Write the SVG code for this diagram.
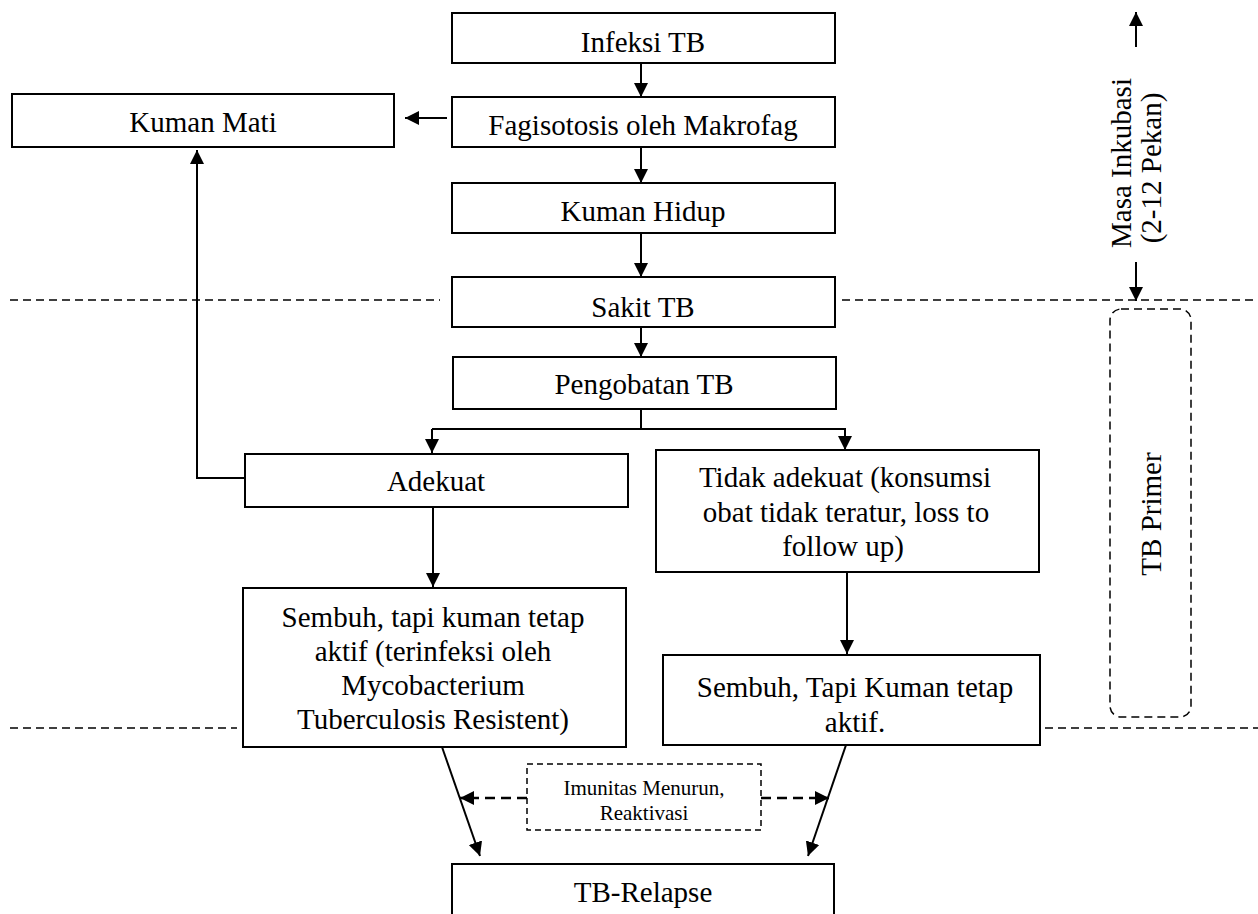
<svg xmlns="http://www.w3.org/2000/svg" width="1258" height="914" viewBox="0 0 1258 914">
<style>
.box{fill:#fff;stroke:#000;stroke-width:2}
.t{font-family:"Liberation Serif","Times New Roman",serif;font-size:29px;fill:#000;text-anchor:middle}
.s{font-family:"Liberation Serif","Times New Roman",serif;font-size:21px;fill:#000;text-anchor:middle}
.c{fill:none;stroke:#000;stroke-width:2}
.dl{fill:none;stroke:#000;stroke-width:1.5;stroke-dasharray:8 5}
.da{fill:none;stroke:#000;stroke-width:2.5;stroke-dasharray:10 6}
</style>
<defs>
<marker id="ah" markerUnits="userSpaceOnUse" markerWidth="14" markerHeight="14" refX="14" refY="7" orient="auto" viewBox="0 0 14 14">
<path d="M0,0 L14,7 L0,14 z" fill="#000"/>
</marker>
</defs>
<rect width="1258" height="914" fill="#fff"/>
<g id="separators">
<line class="dl" x1="10" y1="300" x2="440" y2="300"/>
<line class="dl" x1="842" y1="300" x2="1258" y2="300"/>
<line class="dl" x1="10" y1="728" x2="237" y2="728"/>
<line class="dl" x1="1045" y1="728" x2="1258" y2="728"/>
</g>
<g id="infeksi"><rect class="box" x="452" y="13" width="383" height="50"/><text class="t" x="643" y="52">Infeksi TB</text></g>
<g id="fagisotosis"><rect class="box" x="452" y="97" width="383" height="50"/><text class="t" x="643" y="135">Fagisotosis oleh Makrofag</text></g>
<g id="kuman-mati"><rect class="box" x="12" y="94" width="382" height="53"/><text class="t" x="203" y="132">Kuman Mati</text></g>
<g id="kuman-hidup"><rect class="box" x="452" y="183" width="383" height="50"/><text class="t" x="643" y="221">Kuman Hidup</text></g>
<g id="sakit"><rect class="box" x="452" y="277" width="383" height="50"/><text class="t" x="643" y="317">Sakit TB</text></g>
<g id="pengobatan"><rect class="box" x="453" y="357" width="383" height="52"/><text class="t" x="644" y="394">Pengobatan TB</text></g>
<g id="adekuat"><rect class="box" x="245" y="454" width="383" height="53"/><text class="t" x="436" y="491">Adekuat</text></g>
<g id="tidak-adekuat"><rect class="box" x="656" y="450" width="383" height="122"/>
<text class="t" x="845" y="487">Tidak adekuat (konsumsi</text>
<text class="t" x="846" y="522">obat tidak teratur, loss to</text>
<text class="t" x="843" y="556">follow up)</text></g>
<g id="sembuh-resisten"><rect class="box" x="243" y="588" width="383" height="159"/>
<text class="t" x="433" y="627">Sembuh, tapi kuman tetap</text>
<text class="t" x="433" y="661">aktif (terinfeksi oleh</text>
<text class="t" x="433" y="695">Mycobacterium</text>
<text class="t" x="433" y="729">Tuberculosis Resistent)</text></g>
<g id="sembuh-aktif"><rect class="box" x="663" y="655" width="377" height="90"/>
<text class="t" x="855" y="697">Sembuh, Tapi Kuman tetap</text>
<text class="t" x="855" y="732">aktif.</text></g>
<g id="imunitas"><rect x="527" y="764" width="234" height="66" fill="#fff" stroke="#000" stroke-width="1.5" stroke-dasharray="6 4"/>
<text class="s" x="644" y="795">Imunitas Menurun,</text>
<text class="s" x="644" y="820">Reaktivasi</text></g>
<g id="relapse"><rect class="box" x="452" y="864" width="382" height="60"/><text class="t" x="643" y="902">TB-Relapse</text></g>
<g id="tb-primer"><rect x="1110" y="309" width="81" height="408" rx="11" fill="none" stroke="#000" stroke-width="1.5" stroke-dasharray="8 5"/>
<text class="t" transform="translate(1161,514) rotate(-90)">TB Primer</text></g>
<g id="masa-inkubasi">
<text class="t" transform="translate(1131,163) rotate(-90)">Masa Inkubasi</text>
<text class="t" transform="translate(1161,168) rotate(-90)">(2-12 Pekan)</text>
</g>
<g id="connectors">
<line class="c" x1="641" y1="63" x2="641" y2="97" marker-end="url(#ah)"/>
<line class="c" x1="447" y1="118" x2="405" y2="118" marker-end="url(#ah)"/>
<line class="c" x1="641" y1="147" x2="641" y2="183" marker-end="url(#ah)"/>
<line class="c" x1="641" y1="233" x2="641" y2="277" marker-end="url(#ah)"/>
<line class="c" x1="641" y1="327" x2="641" y2="357" marker-end="url(#ah)"/>
<polyline class="c" points="641,409 641,429"/>
<line class="c" x1="432" y1="429" x2="846" y2="429"/>
<line class="c" x1="432" y1="429" x2="432" y2="453" marker-end="url(#ah)"/>
<line class="c" x1="845" y1="429" x2="845" y2="450" marker-end="url(#ah)"/>
<polyline class="c" points="245,478 197,478 197,150" marker-end="url(#ah)"/>
<line class="c" x1="433" y1="507" x2="433" y2="587" marker-end="url(#ah)"/>
<line class="c" x1="847" y1="572" x2="847" y2="654" marker-end="url(#ah)"/>
<line class="c" x1="442" y1="747" x2="480" y2="856" marker-end="url(#ah)"/>
<line class="c" x1="846" y1="745" x2="808" y2="856" marker-end="url(#ah)"/>
<line class="da" x1="527" y1="798" x2="460" y2="798" marker-end="url(#ah)"/>
<line class="da" x1="761" y1="798" x2="829" y2="798" marker-end="url(#ah)"/>
<line class="c" x1="1136" y1="47" x2="1136" y2="12" marker-end="url(#ah)"/>
<line class="c" x1="1136" y1="262" x2="1136" y2="301" marker-end="url(#ah)"/>
</g>
</svg>
